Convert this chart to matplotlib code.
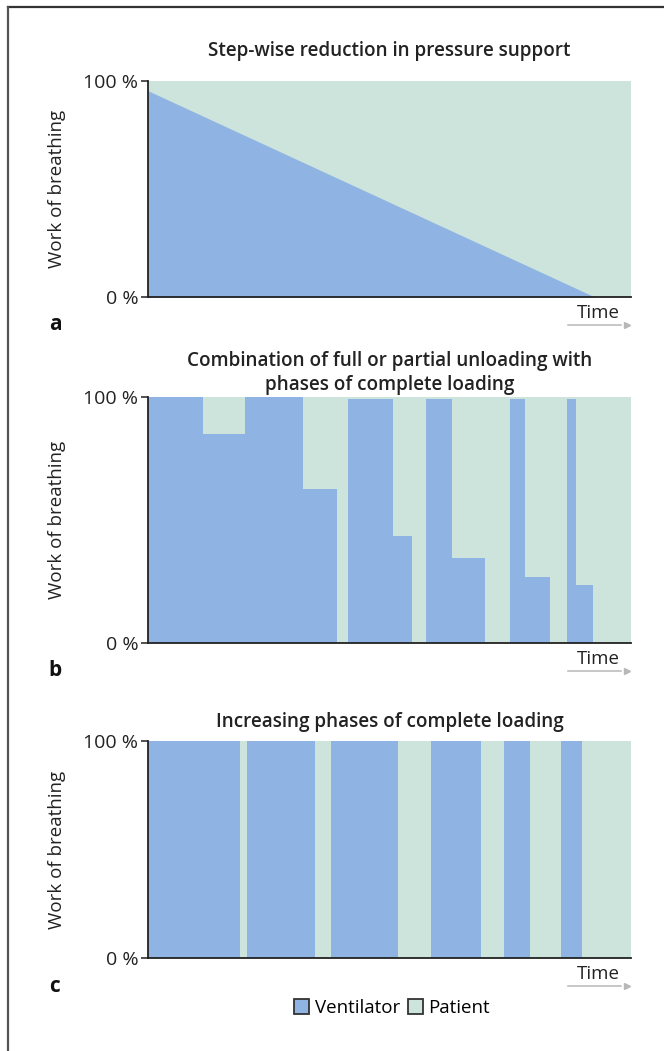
import matplotlib
matplotlib.use("Agg")
import matplotlib.pyplot as plt
from matplotlib.patches import Patch
from matplotlib.lines import Line2D

plt.rcParams['font.family'] = ['Open Sans', 'DejaVu Sans']

VENT = "#8fb4e3"
PAT = "#cde4dd"

# panel a: linear decline of ventilator share
a_time = [0, 92.5, 100]
a_vent = [95.5, 0, 0]

# panel b: step edges (time units 0..100) and ventilator share per step
b_edges = [0, 11.4, 20.1, 32.0, 39.1, 41.5, 50.8, 54.6, 57.5, 62.9, 69.8,
           75.0, 78.1, 83.3, 86.7, 88.6, 92.1, 100]
b_vent = [100, 85, 100, 62.4, 0, 99, 43.4, 0, 99, 34.7, 0, 99, 26.9, 0, 99, 23.4, 0]

# panel c: on/off phases
c_edges = [0, 19.0, 20.6, 34.6, 37.9, 51.7, 58.5, 69.0, 73.8, 79.1, 85.6, 89.8, 100]
c_vent = [100, 0, 100, 0, 100, 0, 100, 0, 100, 0, 100, 0]

titles = [["Step-wise reduction in pressure support"],
          ["Combination of full or partial unloading with", "phases of complete loading"],
          ["Increasing phases of complete loading"]]
title_y = [[51], [361, 385], [722]]  # pixel centres
letters = ["a", "b", "c"]

W, H = 664, 1051
fig = plt.figure(figsize=(W / 100, H / 100), dpi=100)

# axes boxes in pixels: left, top, right, bottom
boxes = [(148, 81, 631, 297), (148, 397, 631, 643), (148, 741, 631, 958)]

for i, (l, t, r, b) in enumerate(boxes):
    ax = fig.add_axes([l / W, 1 - b / H, (r - l) / W, (b - t) / H])
    ax.fill_between([0, 100], 0, 100, color=PAT, lw=0)
    if i == 0:
        ax.fill_between(a_time, 0, a_vent, color=VENT, lw=0)
    elif i == 1:
        ax.stairs(b_vent, b_edges, fill=True, color=VENT, lw=0)
    else:
        ax.stairs(c_vent, c_edges, fill=True, color=VENT, lw=0)
    ax.set_xlim(0, 100)
    ax.set_ylim(0, 100)
    for s in ["top", "right"]:
        ax.spines[s].set_visible(False)
    for s in ["left", "bottom"]:
        ax.spines[s].set_linewidth(1.3)
        ax.spines[s].set_color("#222222")
    ax.set_xticks([])
    ax.set_yticks([0, 100])
    ax.set_yticklabels(["0 %", "100 %"], fontsize=14, color="#222222")
    ax.tick_params(axis="y", length=5, width=1.1, pad=2, color="#222222")
    ax.set_ylabel("Work of breathing", fontsize=13.5, color="#222222")
    ax.yaxis.set_label_coords((66 - l) / (r - l), 0.5)

    for txt, ty in zip(titles[i], title_y[i]):
        fig.text((l + r) / 2 / W, 1 - ty / H, txt, fontsize=13.6, fontweight="semibold",
                 ha="center", va="center", color="#222222")

    # Time label with arrow
    fig.text(598 / W, 1 - (b + 16) / H, "Time", fontsize=13.5, ha="center",
             va="center", color="#222222")
    fig.add_artist(Line2D([568 / W, 621 / W], [1 - (b + 28) / H] * 2,
                          color="#b8b8b8", lw=1.1))
    fig.add_artist(Line2D([627 / W], [1 - (b + 28) / H], marker=">",
                          markersize=5, color="#b8b8b8", lw=0))
    fig.text(55 / W, 1 - (b + 28) / H, letters[i], fontsize=15, fontweight="bold",
             ha="center", va="center", color="#111111")

# legend
handles = [Patch(facecolor=VENT, edgecolor="#333333", lw=1.3, label="Ventilator"),
           Patch(facecolor=PAT, edgecolor="#333333", lw=1.3, label="Patient")]
fig.legend(handles=handles, loc="center", bbox_to_anchor=(392 / W, 1 - 1008 / H),
           ncol=2, frameon=False, fontsize=13.5, handlelength=0.8, handleheight=0.8,
           handletextpad=0.3, columnspacing=0.4, borderpad=0)

# frame lines (top and left)
fig.add_artist(Line2D([8 / W, 1], [1 - 6.5 / H] * 2, color="#333333", lw=1.6))
fig.add_artist(Line2D([8 / W] * 2, [0, 1 - 6.5 / H], color="#555555", lw=1.6))

fig.savefig("out.png", dpi=100)
